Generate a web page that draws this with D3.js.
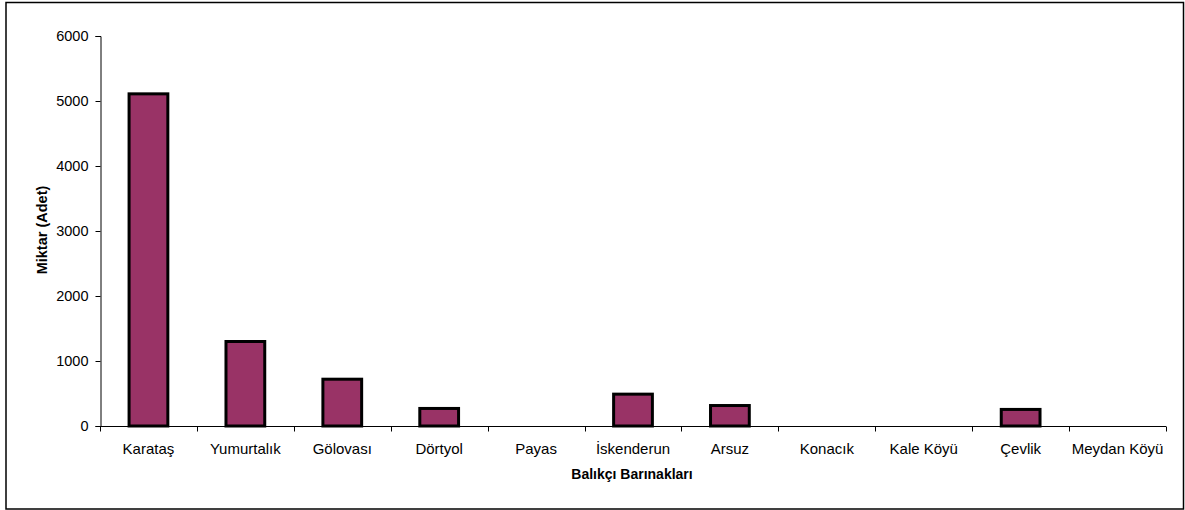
<!DOCTYPE html>
<html><head><meta charset="utf-8">
<script src="https://cdn.jsdelivr.net/npm/d3@7"></script>
<style>body{margin:0;background:#fff}svg{display:block}text{font-family:"Liberation Sans",Arial,sans-serif}</style>
</head><body>
<svg id="c" width="1185" height="510"></svg>
<script>
const categories = ["Karataş","Yumurtalık","Gölovası","Dörtyol","Payas","İskenderun","Arsuz","Konacık","Kale Köyü","Çevlik","Meydan Köyü"];
const values = [5110,1300,720,270,0,490,315,0,0,255,0];
const yTicks = [0,1000,2000,3000,4000,5000,6000];

const svg = d3.select("#c");
svg.append("rect").attr("x",6).attr("y",2.5).attr("width",1177.5).attr("height",506.5)
  .attr("fill","#fff").attr("stroke","#000").attr("stroke-width",1.5);

const band = d3.scaleBand().domain(categories).range([100,1166]);
const y = d3.scaleLinear().domain([0,6000]).range([426,36]);

// bars
svg.selectAll("rect.bar").data(values).join("rect").attr("class","bar")
  .attr("x",(d,i)=>band(categories[i])+band.bandwidth()*0.3)
  .attr("width",band.bandwidth()*0.4)
  .attr("y",d=>y(d)).attr("height",d=>y(0)-y(d))
  .attr("fill","#993366").attr("stroke","#000").attr("stroke-width",3)
  .attr("display",d=>d>0?null:"none");

// y axis
const ya = svg.append("g").attr("transform","translate(100.5,0)")
  .call(d3.axisLeft(y).tickValues(yTicks).tickSize(5).tickPadding(7).tickFormat(d3.format("d")));
ya.select(".domain").attr("stroke","#000");
ya.selectAll("text").attr("font-size",14.5).attr("fill","#000").attr("font-family","Liberation Sans, Arial, sans-serif");

// x axis
const xa = svg.append("g").attr("transform","translate(0,426.5)");
xa.append("line").attr("x1",100).attr("x2",1166).attr("stroke","#000");
const bounds = categories.map(c=>band(c)).concat([band.range()[1]]);
xa.selectAll("line.t").data(bounds).join("line").attr("class","t")
  .attr("x1",d=>Math.round(d)+0.5).attr("x2",d=>Math.round(d)+0.5).attr("y1",0).attr("y2",5).attr("stroke","#000");
xa.selectAll("text").data(categories).join("text")
  .attr("x",d=>band(d)+band.bandwidth()/2).attr("y",27.5)
  .attr("text-anchor","middle").attr("font-size",15).attr("fill","#000").text(d=>d);

// titles
svg.append("text").attr("transform","translate(46.5,230) rotate(-90)").attr("text-anchor","middle")
  .attr("font-size",14.5).attr("font-weight","bold").text("Miktar (Adet)");
svg.append("text").attr("x",632).attr("y",479).attr("text-anchor","middle")
  .attr("font-size",14).attr("font-weight","bold").text("Balıkçı Barınakları");
</script>
</body></html>
